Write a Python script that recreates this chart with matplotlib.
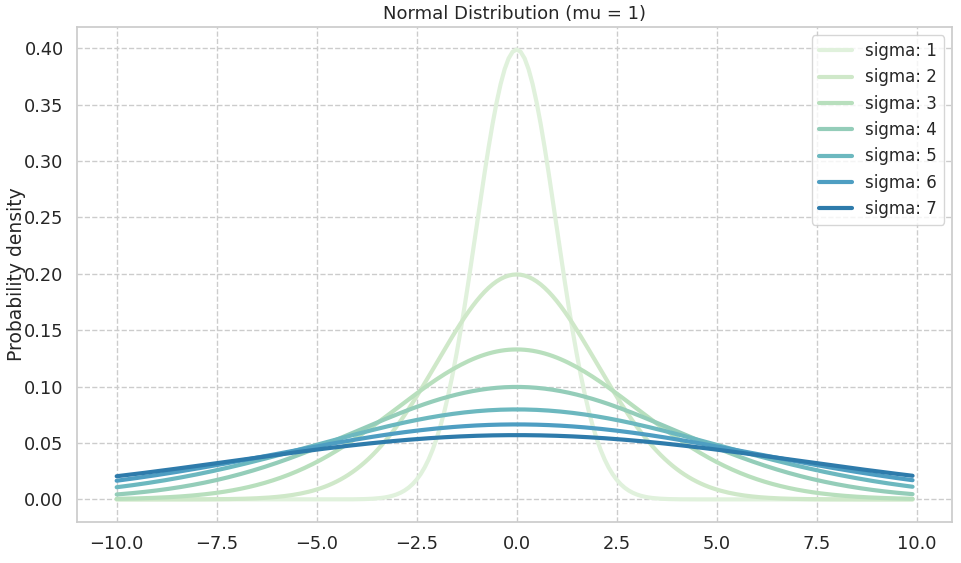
import numpy as np
import matplotlib
matplotlib.use("Agg")
import matplotlib.pyplot as plt
import seaborn as sns

# normal pdf curves, one per sigma, mean 0
mu = 0
sigmas = [1, 2, 3, 4, 5, 6, 7]
x = np.arange(-10, 10, 0.1)
colors = ["#e0f1dc", "#cfe8c9", "#b8dfbd", "#94cdb9", "#6cb8bf", "#4e9ec2", "#2e7bab"]

sns.set_theme(style="whitegrid", rc={"grid.linestyle": "--"})
plt.rcParams['font.family'] = ['DejaVu Sans']

fig, ax = plt.subplots(figsize=(9.61, 5.63), dpi=100)
fig.subplots_adjust(left=0.08, right=0.991, top=0.952, bottom=0.073)

for s, c in zip(sigmas, colors):
    y = np.exp(-0.5 * ((x - mu) / s) ** 2) / (s * np.sqrt(2 * np.pi))
    ax.plot(x, y, color=c, lw=3, label=f"sigma: {s}")

ax.set_title("Normal Distribution (mu = 1)", fontsize=13)
ax.set_ylabel("Probability density", fontsize=13.5, labelpad=-1)
ax.set_xticks(np.arange(-10, 10.1, 2.5))
ax.tick_params(labelsize=12.8)
ax.legend(loc="upper right", fontsize=12)

plt.savefig("out.png", dpi=100)
